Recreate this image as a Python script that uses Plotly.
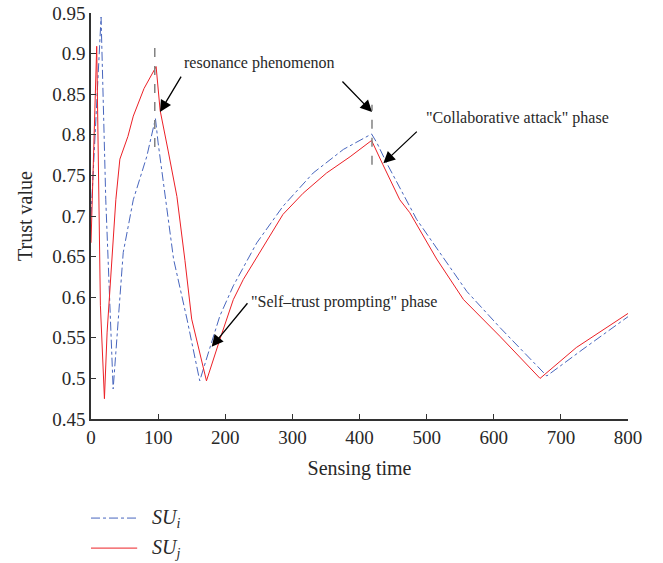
import plotly.graph_objects as go

# Trust value of the two secondary users over sensing time
su_i_time = [0, 15, 22, 33, 48, 63, 83, 96, 100, 123, 143, 162, 178, 192, 212, 247, 286,
             331, 376, 418, 426, 440, 485, 520, 560, 610, 679, 733, 800]
su_i_trust = [0.70, 0.945, 0.72, 0.487, 0.655, 0.72, 0.773, 0.82, 0.79, 0.647, 0.573, 0.497,
              0.54, 0.577, 0.614, 0.667, 0.712, 0.753, 0.782, 0.801, 0.79, 0.766, 0.696,
              0.655, 0.607, 0.562, 0.503, 0.536, 0.576]

su_j_time = [0, 8.5, 14, 20, 24, 31, 37, 43, 55, 63, 79, 97, 103, 115, 128, 140, 150, 161,
             172, 192, 212, 227, 254, 286, 316, 351, 386, 418, 435, 460, 475, 515, 555,
             609, 669, 723, 800]
su_j_trust = [0.667, 0.909, 0.59, 0.475, 0.557, 0.638, 0.72, 0.77, 0.798, 0.823, 0.857,
              0.884, 0.83, 0.78, 0.724, 0.645, 0.573, 0.535, 0.497, 0.548, 0.597, 0.622,
              0.659, 0.702, 0.728, 0.753, 0.773, 0.793, 0.763, 0.72, 0.704, 0.647, 0.597,
              0.552, 0.50, 0.538, 0.58]

# Resonance markers: (time, lower trust, upper trust)
resonance_marks = [(95, 0.785, 0.913), (418.6, 0.763, 0.837)]

x_ticks = [0, 100, 200, 300, 400, 500, 600, 700, 800]
y_ticks = [0.45, 0.5, 0.55, 0.6, 0.65, 0.7, 0.75, 0.8, 0.85, 0.9, 0.95]

FONT = "Liberation Serif"
TEXT = "rgb(40,40,40)"
RED = "rgb(236,32,38)"
BLUE = "rgb(72,102,190)"

series = [
    dict(name="<i>SU</i><sub><i>i</i></sub>", t=su_i_time, v=su_i_trust,
         line=dict(color=BLUE, width=1, dash="dashdot")),
    dict(name="<i>SU</i><sub><i>j</i></sub>", t=su_j_time, v=su_j_trust,
         line=dict(color=RED, width=1)),
]

fig = go.Figure()
for s in series:
    fig.add_trace(go.Scatter(x=s["t"], y=s["v"], mode="lines", name=s["name"],
                             line=s["line"], showlegend=False))

for t, lo, hi in resonance_marks:
    fig.add_shape(type="line", xref="x", yref="y", x0=t, x1=t, y0=lo, y1=hi,
                  line=dict(color="rgb(130,130,130)", width=1.5, dash="dash"))

# Callout arrows: (head time, head trust, tail dx px, tail dy px)
arrows = [(102.8, 0.828, 22, -37), (418.6, 0.828, -31, -32),
          (435.5, 0.765, 35, -33), (179.8, 0.539, 37, -45)]
annotations = []
for t, v, dx, dy in arrows:
    annotations.append(dict(
        x=t, y=v, xref="x", yref="y", text="", showarrow=True,
        ax=dx, ay=dy, arrowhead=2, arrowsize=1.8, arrowwidth=1.3,
        arrowcolor="black", standoff=0, startstandoff=0,
    ))

labels = [(135.6, 0.888, "resonance phenomenon"),
          (496, 0.8207, "\"Collaborative attack\" phase"),
          (235.4, 0.594, "\"Self\u2013trust prompting\" phase")]
for t, v, txt in labels:
    annotations.append(dict(
        x=t, y=v, xref="x", yref="y", text=txt, showarrow=False,
        xanchor="left", yanchor="middle",
        font=dict(family=FONT, size=16, color=TEXT),
    ))

# Key below the axes: a line sample and a label per series
key_rows = [-0.244, -0.318]
for s, ky in zip(series, key_rows):
    fig.add_shape(type="line", xref="paper", yref="paper", x0=0.0, x1=0.086,
                  y0=ky, y1=ky, line=s["line"])
    annotations.append(dict(
        x=0.11, y=ky, xref="paper", yref="paper", text=s["name"],
        showarrow=False, xanchor="left", yanchor="middle",
        font=dict(family=FONT, size=20, color=TEXT),
    ))

fig.update_layout(
    width=663, height=563,
    margin=dict(l=91, r=35, t=13, b=144, autoexpand=False),
    paper_bgcolor="white", plot_bgcolor="white",
    font=dict(family=FONT, color=TEXT, size=19),
    annotations=annotations,
    showlegend=False,
    xaxis=dict(
        range=[0, 800], tickvals=x_ticks, ticktext=[str(v) for v in x_ticks],
        showgrid=False, zeroline=False, showline=True, linecolor="rgb(50,50,50)",
        linewidth=1.5, ticks="inside", ticklen=5, tickwidth=1.2,
        tickcolor="rgb(50,50,50)", mirror=False,
        title=dict(text="Sensing time", font=dict(size=20), standoff=14),
        tickfont=dict(size=19),
    ),
    yaxis=dict(
        range=[0.45, 0.95], tickvals=y_ticks,
        ticktext=[f"{v:g}" for v in y_ticks],
        showgrid=False, zeroline=False, showline=True, linecolor="rgb(50,50,50)",
        linewidth=1.5, ticks="inside", ticklen=5, tickwidth=1.2,
        tickcolor="rgb(50,50,50)", mirror=False,
        title=dict(text="Trust value", font=dict(size=20), standoff=14),
        tickfont=dict(size=19),
    ),
)

fig.write_html("out.html")
